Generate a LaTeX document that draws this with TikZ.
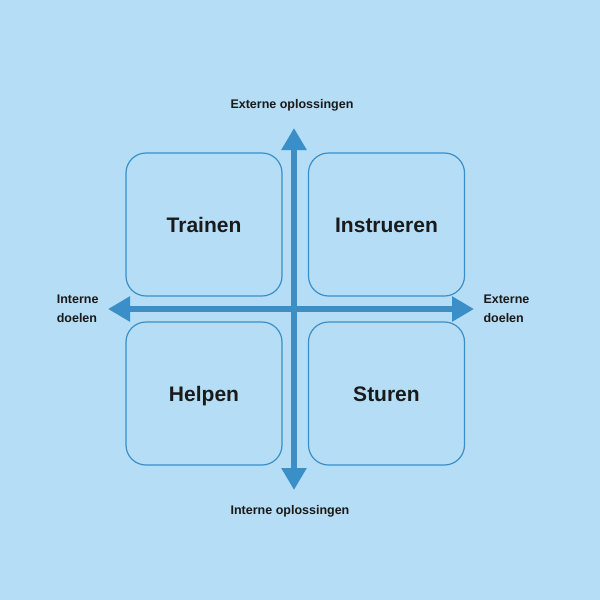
\documentclass[tikz,border=0pt]{standalone}
\usepackage{fontspec}
\setmainfont{Liberation Sans}
\usetikzlibrary{arrows.meta,positioning}
\definecolor{bgblue}{HTML}{B5DDF5}
\definecolor{linblue}{HTML}{3A8FC9}
\definecolor{txt}{HTML}{1A1A1A}
\tikzset{
  quad/.style={draw=linblue, line width=1.2pt, rounded corners=20pt, minimum width=156pt, minimum height=143pt, inner sep=0pt, text height=15pt, text depth=0pt, font=\fontsize{21}{21}\selectfont\bfseries, text=txt},
  axis/.style={linblue, line width=6pt, -{Triangle[length=22pt,width=24pt]}},
  lbl/.style={font=\fontsize{12.5}{19}\selectfont\bfseries, text=txt, align=left}
}
\begin{document}
\begin{tikzpicture}[x=1pt,y=-1pt]
    \fill[bgblue] (0,0) rectangle (600,600);
    \useasboundingbox (0,0) rectangle (600,600);

    \node[quad] (trainen) at (204,224.5) {Trainen};
    \node[quad] (instrueren) at (386.5,224.5) {Instrueren};
    \node[quad] (helpen) at (204,393.5) {Helpen};
    \node[quad] (sturen) at (386.5,393.5) {Sturen};

    \coordinate (centre) at (294,309);
    \coordinate (top) at (294,128);
    \coordinate (bottom) at (294,490);
    \coordinate (left) at (108,309);
    \coordinate (right) at (474,309);

    \draw[axis] (centre) -- (top);
    \draw[axis] (centre) -- (bottom);
    \draw[axis] (centre) -- (left);
    \draw[axis] (centre) -- (right);

    \node[lbl] (extopl) at (292,105) {Externe oplossingen};
    \node[lbl] (intopl) at (290,511) {Interne oplossingen};
    \node[lbl, left=6pt of left] (intdoel) {Interne\\doelen};
    \node[lbl, right=6pt of right] (extdoel) {Externe\\doelen};
\end{tikzpicture}
\end{document}
